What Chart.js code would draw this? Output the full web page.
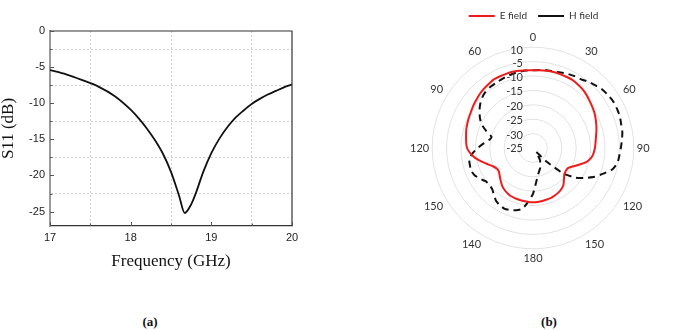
<!DOCTYPE html>
<html>
<head>
<meta charset="utf-8">
<script src="https://cdn.jsdelivr.net/npm/chart.js@4.4.1/dist/chart.umd.min.js"></script>
<style>
  html, body { margin: 0; padding: 0; background: #fff; width: 689px; height: 330px; overflow: hidden; }
  #wrap { position: relative; width: 689px; height: 330px; }
  canvas { position: absolute; }
  .cap { position: absolute; font-family: "Liberation Serif", serif; font-weight: bold; font-size: 13px; color: #111; transform: translate(-50%, -50%); white-space: nowrap; }
</style>
</head>
<body>
<div id="wrap">
  <canvas id="cA" width="340" height="290" style="left:0px;top:0px;"></canvas>
  <canvas id="cB" width="311" height="290" style="left:378px;top:0px;"></canvas>
  <div class="cap" style="left:150px;top:322px;">(a)</div>
  <div class="cap" style="left:549px;top:322px;">(b)</div>
</div>
<script>
// ---------- (a) S11 vs frequency ----------
const freqGHz = [17.0, 17.2, 17.4, 17.6, 17.8, 18.0, 18.1, 18.2, 18.3, 18.4, 18.5, 18.6, 18.67, 18.75, 18.8, 18.9, 19.0, 19.1, 19.2, 19.3, 19.4, 19.5, 19.6, 19.7, 19.8, 19.9, 20.0];
const s11dB   = [-5.4, -6.0, -6.8, -7.7, -9.0, -10.9, -12.1, -13.5, -15.1, -17.0, -19.5, -22.8, -25.2, -24.0, -22.7, -19.5, -16.9, -14.9, -13.3, -12.0, -11.0, -10.1, -9.4, -8.8, -8.3, -7.8, -7.4];
const xTickValues = [17, 17.5, 18, 18.5, 19, 19.5, 20];
const xTickLabels = ['17', '', '18', '', '19', '', '20'];
const yTickValues = [-25, -22.5, -20, -17.5, -15, -12.5, -10, -7.5, -5, -2.5, 0];
const yTickLabels = ['-25', '', '-20', '', '-15', '', '-10', '', '-5', '', '0'];

// ---------- (b) radiation pattern ----------
const angleDeg = [0,5,10,15,20,25,30,35,40,45,50,55,60,65,70,75,80,85,90,95,100,105,110,115,120,125,130,135,140,145,150,155,160,165,170,175,180,185,190,195,200,205,210,215,220,225,230,235,240,245,250,255,260,265,270,275,280,285,290,295,300,305,310,315,320,325,330,335,340,345,350,355];
const eField = [-8.0,-7.9,-7.8,-7.7,-7.7,-7.7,-7.7,-8.0,-8.3,-8.8,-9.4,-9.9,-10.4,-11.0,-11.6,-12.2,-12.8,-13.2,-13.5,-13.9,-14.6,-15.9,-18.0,-19.8,-21.0,-21.1,-20.8,-19.8,-18.5,-17.7,-17.2,-16.9,-16.6,-16.5,-16.3,-16.2,-16.2,-16.2,-16.3,-16.4,-16.5,-16.6,-17.0,-17.5,-18.2,-19.1,-19.9,-20.6,-20.6,-19.8,-18.4,-16.6,-14.7,-13.2,-12.1,-11.7,-11.4,-11.0,-10.7,-10.4,-10.1,-9.6,-9.2,-8.7,-8.3,-8.0,-7.6,-7.6,-7.6,-7.6,-7.8,-7.9];
const hField = [-8.0,-7.8,-7.6,-7.5,-7.1,-6.6,-6.2,-5.9,-5.0,-4.3,-3.5,-3.1,-2.8,-2.8,-2.9,-3.3,-3.5,-4.0,-4.5,-4.9,-5.2,-6.4,-9.0,-11.4,-14.2,-17.0,-21.1,-28.1,-33.3,-32.2,-30.1,-29.1,-27.7,-26.7,-25.3,-22.9,-19.1,-16.3,-13.5,-12.6,-12.1,-11.7,-12.0,-12.6,-13.9,-14.9,-15.2,-14.9,-13.7,-12.6,-12.1,-12.3,-12.5,-13.9,-15.8,-17.7,-19.4,-20.1,-17.7,-15.2,-13.7,-12.3,-11.1,-10.1,-9.4,-9.1,-9.0,-8.8,-8.5,-8.3,-8.1,-8.0];
const angleTickAt = [0, 30, 60, 90, 120, 150, 180, 210, 240, 270, 300, 330];
const angleTickLabels = ['0', '30', '60', '90', '120', '150', '180', '140', '150', '120', '90', '60'];
const radialTickLabels = ['-25', '-30', '-25', '-20', '-15', '-10', '-5', '10']; // centre -> outer ring

// ---------- chart (a) ----------
const boxPlugin = {
  id: 'boxPlugin',
  afterDraw(chart) {
    const {ctx, chartArea: a, scales} = chart;
    ctx.save();
    ctx.strokeStyle = '#333';
    ctx.lineWidth = 1.2;
    ctx.beginPath();
    ctx.moveTo(a.left, a.top); ctx.lineTo(a.right, a.top); ctx.lineTo(a.right, a.bottom);
    ctx.stroke();
    ctx.strokeStyle = '#555';
    ctx.lineWidth = 1;
    ctx.beginPath();
    xTickValues.forEach((v, i) => {
      const x = Math.round(scales.x.getPixelForValue(v)) + 0.5;
      const len = xTickLabels[i] ? 4 : 2.5;
      ctx.moveTo(x, a.bottom); ctx.lineTo(x, a.bottom - len);
    });
    yTickValues.forEach((v, i) => {
      const y = Math.round(scales.y.getPixelForValue(v)) + 0.5;
      const len = yTickLabels[i] ? 4 : 2.5;
      ctx.moveTo(a.left, y); ctx.lineTo(a.left + len, y);
    });
    ctx.stroke();
    ctx.restore();
  }
};

new Chart(document.getElementById('cA'), {
  type: 'line',
  data: {
    datasets: [{
      data: freqGHz.map((f, i) => ({x: f, y: s11dB[i]})),
      borderColor: '#111',
      borderWidth: 1.8,
      pointRadius: 0,
      fill: false,
      cubicInterpolationMode: 'monotone'
    }]
  },
  options: {
    responsive: false,
    animation: false,
    devicePixelRatio: 1,
    layout: { padding: { top: 31, right: 48, left: 0, bottom: 0 } },
    plugins: { legend: { display: false }, tooltip: { enabled: false } },
    scales: {
      x: {
        type: 'linear', min: 17, max: 20,
        afterBuildTicks: s => { s.ticks = xTickValues.map(v => ({value: v})); },
        afterFit: s => { s.height = 64; },
        ticks: {
          autoSkip: false, maxRotation: 0, padding: 5,
          color: '#222', font: { family: '"Liberation Sans", Arial, sans-serif', size: 11 },
          callback: (v, i) => xTickLabels[i]
        },
        grid: {
          drawTicks: false,
          color: c => (c.tick && xTickLabels[c.index] === '') ? '#cfcfcf' : 'rgba(0,0,0,0)',
          lineWidth: 1
        },
        border: { display: true, color: '#333', width: 1.2, dash: [2, 2] },
        title: {
          display: true, text: 'Frequency (GHz)', color: '#111',
          font: { family: '"Liberation Serif", "Times New Roman", serif', size: 17, lineHeight: 1 },
          padding: { top: 0, bottom: 20 }
        }
      },
      y: {
        type: 'linear', min: -27, max: 0,
        afterBuildTicks: s => { s.ticks = yTickValues.map(v => ({value: v})); },
        afterFit: s => { s.width = 50; },
        ticks: {
          autoSkip: false, padding: 5,
          color: '#222', font: { family: '"Liberation Sans", Arial, sans-serif', size: 11 },
          callback: (v, i) => yTickLabels[i]
        },
        grid: {
          drawTicks: false,
          color: c => (c.tick && yTickLabels[c.index] === '') ? '#cfcfcf' : 'rgba(0,0,0,0)',
          lineWidth: 1
        },
        border: { display: true, color: '#9a9a9a', width: 2, dash: [2, 2] },
        title: {
          display: true, text: 'S11 (dB)', color: '#111',
          font: { family: '"Liberation Serif", "Times New Roman", serif', size: 17, lineHeight: 1 },
          padding: { top: 0, bottom: 0 }
        }
      }
    }
  },
  plugins: [boxPlugin]
});

// ---------- chart (b) ----------
const radialLabelPlugin = {
  id: 'radialLabels',
  afterDraw(chart) {
    const s = chart.scales.r;
    const ctx = chart.ctx;
    ctx.save();
    ctx.font = '11px Lato, "Open Sans", sans-serif';
    ctx.fillStyle = '#333';
    ctx.textAlign = 'right';
    ctx.textBaseline = 'middle';
    s.ticks.forEach((t, i) => {
      const d = s.getDistanceFromCenterForValue(t.value);
      const shift = i === 0 ? 0 : (i === s.ticks.length - 1 ? 3 : 1.5);
      ctx.fillText(radialTickLabels[i], s.xCenter - 10, s.yCenter - d + shift);
    });
    ctx.restore();
  }
};

new Chart(document.getElementById('cB'), {
  type: 'radar',
  data: {
    labels: angleDeg,
    datasets: [
      {
        label: 'E field', data: eField,
        borderColor: '#f01c1c', borderWidth: 2, pointRadius: 0, fill: false, tension: 0.15
      },
      {
        label: 'H field', data: hField,
        borderColor: '#111', borderWidth: 2, borderDash: [7, 5], pointRadius: 0, fill: false, tension: 0.15
      }
    ]
  },
  options: {
    responsive: false,
    animation: false,
    devicePixelRatio: 1,
    layout: { padding: { top: 0, bottom: 25, left: 0, right: 0 } },
    plugins: {
      tooltip: { enabled: false },
      legend: {
        display: true, position: 'top',
        labels: {
          usePointStyle: true, pointStyle: 'line', pointStyleWidth: 26,
          boxHeight: 10, padding: 11, color: '#333',
          font: { family: 'Lato, "Open Sans", sans-serif', size: 10 }
        }
      }
    },
    scales: {
      r: {
        min: -35, max: 0,
        ticks: { display: false, stepSize: 5 },
        angleLines: { display: false },
        grid: { circular: true, color: '#e2e2e2', lineWidth: 1 },
        pointLabels: {
          padding: 3, color: '#333',
          font: { family: 'Lato, "Open Sans", sans-serif', size: 11 },
          callback: (lab) => {
            const k = angleTickAt.indexOf(lab);
            return k >= 0 ? angleTickLabels[k] : '';
          }
        }
      }
    }
  },
  plugins: [radialLabelPlugin]
});
</script>
</body>
</html>
